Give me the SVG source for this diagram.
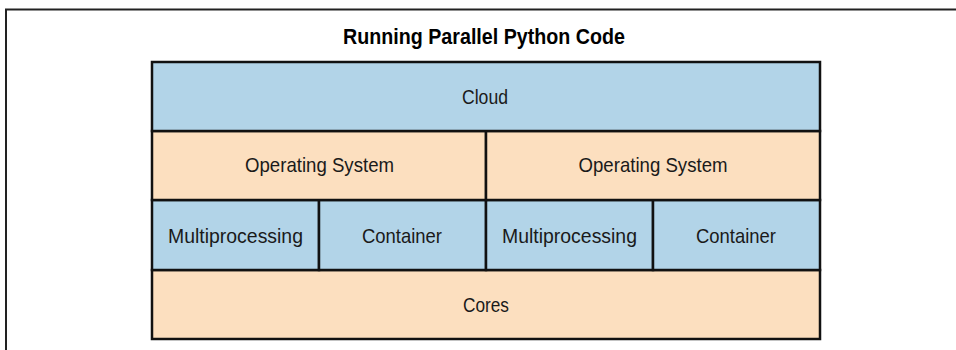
<svg xmlns="http://www.w3.org/2000/svg" width="956" height="350" viewBox="0 0 956 350">
<style>
.frame{fill:none;stroke:#222;stroke-width:2}
.blue{fill:#b2d4e8;stroke:#111;stroke-width:2.5}
.peach{fill:#fcdfbf;stroke:#111;stroke-width:2.5}
.lbl{font-family:"Liberation Sans",Arial,sans-serif;font-size:21px;fill:#1a1a1a;text-anchor:middle}
.title{font-family:"Liberation Sans",Arial,sans-serif;font-size:21.5px;font-weight:bold;fill:#000;text-anchor:middle}
</style>
<rect width="956" height="350" fill="#fff"/>
<path class="frame" d="M6,350 V9.5 H956"/>
<text class="title" x="484" y="43.5" textLength="282" lengthAdjust="spacingAndGlyphs">Running Parallel Python Code</text>
<g id="cores"><rect class="peach" x="152" y="270" width="668" height="69"/><text class="lbl" x="486" y="311.5" textLength="46" lengthAdjust="spacingAndGlyphs">Cores</text></g>
<g id="mp1"><rect class="blue" x="152" y="200" width="167" height="70"/><text class="lbl" x="235.5" y="243.3" textLength="135" lengthAdjust="spacingAndGlyphs">Multiprocessing</text></g>
<g id="container1"><rect class="blue" x="319" y="200" width="167" height="70"/><text class="lbl" x="402" y="243.3" textLength="80" lengthAdjust="spacingAndGlyphs">Container</text></g>
<g id="mp2"><rect class="blue" x="486" y="200" width="167" height="70"/><text class="lbl" x="569.5" y="243.3" textLength="135" lengthAdjust="spacingAndGlyphs">Multiprocessing</text></g>
<g id="container2"><rect class="blue" x="653" y="200" width="167" height="70"/><text class="lbl" x="736" y="243.3" textLength="80" lengthAdjust="spacingAndGlyphs">Container</text></g>
<g id="os1"><rect class="peach" x="152" y="131" width="334" height="69"/><text class="lbl" x="319.5" y="172.3" textLength="149" lengthAdjust="spacingAndGlyphs">Operating System</text></g>
<g id="os2"><rect class="peach" x="486" y="131" width="334" height="69"/><text class="lbl" x="653" y="172.3" textLength="149" lengthAdjust="spacingAndGlyphs">Operating System</text></g>
<g id="cloud"><rect class="blue" x="152" y="62" width="668" height="69"/><text class="lbl" x="485" y="104" textLength="46" lengthAdjust="spacingAndGlyphs">Cloud</text></g>
<g id="connectors"></g>
</svg>
